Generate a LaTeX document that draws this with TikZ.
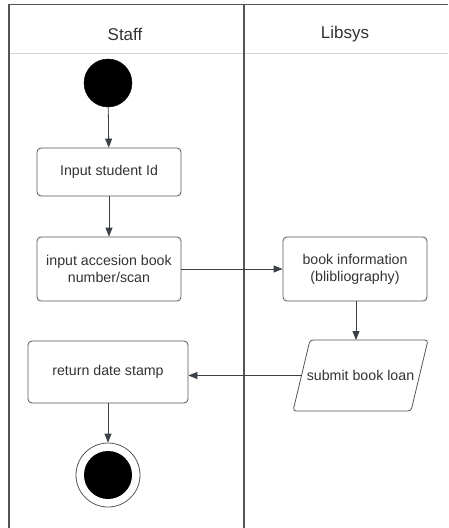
\documentclass[tikz,border=0pt]{standalone}
\usepackage{fontspec}
\setmainfont{Liberation Sans}
\usetikzlibrary{arrows.meta}
\definecolor{ink}{HTML}{3A3F48}
\definecolor{txt}{HTML}{333333}
\definecolor{frame}{HTML}{555555}
\definecolor{sep}{HTML}{D4D4D4}
\begin{document}
\begin{tikzpicture}[x=1pt,y=-1pt,
  act/.style={draw=frame,line width=0.8pt,rounded corners=4pt,align=center,
    text=txt,font=\fontsize{14.2}{17}\selectfont,inner sep=2pt},
  label/.style={align=center,text=txt,font=\fontsize{14.2}{17}\selectfont,inner sep=0pt},
  flow/.style={draw=ink,line width=0.8pt,-{Triangle[length=9pt,width=7pt]}},
  lane/.style={draw=frame,line width=1.2pt},
  header/.style={text=txt,font=\fontsize{17}{20}\selectfont}]
\useasboundingbox (0,0) rectangle (448,528);
\fill[white] (0,0) rectangle (448,528);

% swimlane frame
\draw[sep,line width=1pt] (9,53) -- (448,53);
\draw[lane] (9,528) -- (9,4.5) -- (448,4.5);
\draw[lane] (244,4.5) -- (244,528);
\node[header] (hstaff) at (125,34) {Staff};
\node[header] (hlib) at (345,34) {Libsys};

% activities
\node[circle,fill=black,draw=black,minimum size=48pt,inner sep=0pt] (start) at (108,83) {};
\node[act,minimum width=144pt,minimum height=48pt] (sid) at (109,172) {Input student Id};
\node[act,minimum width=144pt,minimum height=64pt] (acc) at (109,269) {input accesion book\\number/scan};
\node[act,minimum width=144pt,minimum height=64pt] (info) at (355,269) {book information\\(blibliography)};

% input/output step drawn as a parallelogram
\draw[draw=frame,line width=0.8pt,rounded corners=3pt]
  (310,340) -- (428,340) -- (411,411) -- (293,411) -- cycle;
\node[label] (loan) at (360.5,375.5) {submit book loan};
\coordinate (loantop) at (356,340);
\coordinate (loanleft) at (301.6,375.5);

\node[act,minimum width=160pt,minimum height=62pt] (ret) at (108,372) {return date stamp};
\node[circle,draw=frame,line width=0.8pt,minimum size=64pt,inner sep=0pt] (stop) at (108,475) {};
\fill[black] (stop.center) circle (24pt);

% control flow
\draw[flow] (start) -- (sid);
\draw[flow] (sid) -- (acc);
\draw[flow] (acc) -- (info);
\draw[flow] (info.south -| loantop) -- (loantop);
\draw[flow] (loanleft) -- (loanleft -| ret.east);
\draw[flow] (ret) -- (stop);
\end{tikzpicture}
\end{document}
